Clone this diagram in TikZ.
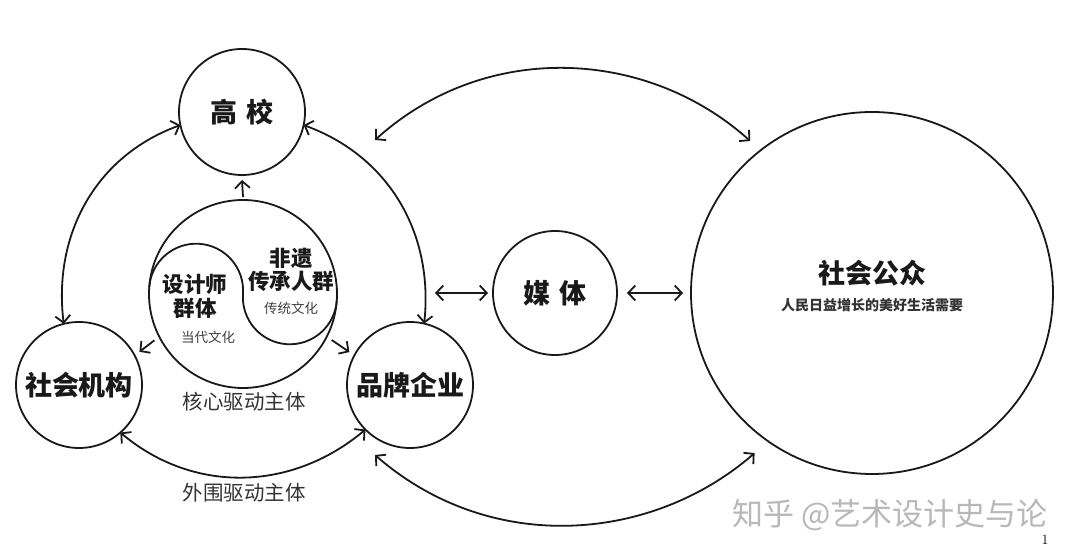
\documentclass[tikz,border=0pt]{standalone}
\usepackage{fontspec}
\newfontfamily\cjk{Noto Sans CJK SC}
\usetikzlibrary{arrows.meta}
\begin{document}
\begin{tikzpicture}[x=1pt,y=1pt,
  >={Straight Barb[length=7pt,width=15pt]},
  line/.style={line width=1.8pt, draw=black!90},
  circ/.style={circle, line width=1.8pt, draw=black!90, inner sep=0pt, outer sep=0pt},
  bigtxt/.style={font=\cjk\bfseries\fontsize{27}{30}\selectfont, text=black!90},
  midtxt/.style={font=\cjk\bfseries\fontsize{21.5}{23.5}\selectfont, text=black!90, align=center},
  smalltxt/.style={font=\cjk\fontsize{13.5}{15}\selectfont, text=black!75},
  labtxt/.style={font=\cjk\fontsize{20.5}{22}\selectfont, text=black!80},
  subtxt/.style={font=\cjk\bfseries\fontsize{14}{16}\selectfont, text=black!80},
  wmtxt/.style={font=\cjk\fontsize{31}{34}\selectfont, text=black!28, inner sep=0pt}
]
\useasboundingbox[fill=white] (0,0) rectangle (1080,554);

% circles
\node[circ, minimum size=126pt, bigtxt] (G) at (242,442) {高\hspace{9pt}校};
\node[circ, minimum size=126pt, bigtxt] (S) at (79,169) {社会机构};
\node[circ, minimum size=126pt, bigtxt] (P) at (410,169) {品牌企业};
\node[circ, minimum size=124pt, bigtxt] (M) at (555,261) {媒\hspace{9pt}体};
\node[circ, minimum size=362pt] (Q) at (872,261) {};
\node[circ, minimum size=188pt] (I) at (243,260) {};

% yin-yang S curve
\draw[line] ([shift={(176:94)}]I.center) arc[start angle=176, end angle=-4, radius=47]
  arc[start angle=176, end angle=356, radius=47];

% texts
\node[midtxt] (t1) at (195,257.5) {设计师\\群体};
\node[smalltxt] (t2) at (208,217) {当代文化};
\node[midtxt] (t3) at (291,284) {非遗\\传承人群};
\node[smalltxt] (t4) at (291,246) {传统文化};
\node[labtxt] (t5) at (244,152) {核心驱动主体};
\node[labtxt] (t6) at (244,61) {外围驱动主体};
\node[bigtxt] (t7) at (872,281) {社会公众};
\node[subtxt] (t8) at (872,249) {人民日益增长的美好生活需要};
\node[wmtxt] (t9) at (890,39) {知乎 @艺术设计史与论};
\node[font=\fontsize{14}{14}\selectfont, inner sep=0pt] (t10) at (1045,14) {1};

% connectors
\draw[line,<->] (G.192) to[out=200,in=97] (S.104);
\draw[line,<->] (G.348) to[out=-20,in=84] (P.77);
\draw[line,<->] (S.311) to[out=-40,in=220] (P.225);
\draw[line,->] ([yshift=3pt]I.north) -- ([yshift=-5pt]G.south);
\draw[line,->,shorten <=6pt,shorten >=6pt] (I.207) -- (S.28);
\draw[line,->,shorten <=6pt,shorten >=6pt] (I.333) -- (P.152);
\coordinate (ML) at (435,261);
\draw[line,<->] (ML) -- ([xshift=-5pt]M.west);
\draw[line,<->] ([xshift=10pt]M.east) -- ([xshift=-8pt]Q.west);
\coordinate (TL) at (375,414);
\draw[line,<->,shorten >=14pt] (TL) to[out=42,in=138] (Q.128);
\coordinate (BL) at (375,99);
\draw[line,<->,shorten >=18pt] (BL) to[out=-41,in=221] (Q.235);
\end{tikzpicture}
\end{document}
